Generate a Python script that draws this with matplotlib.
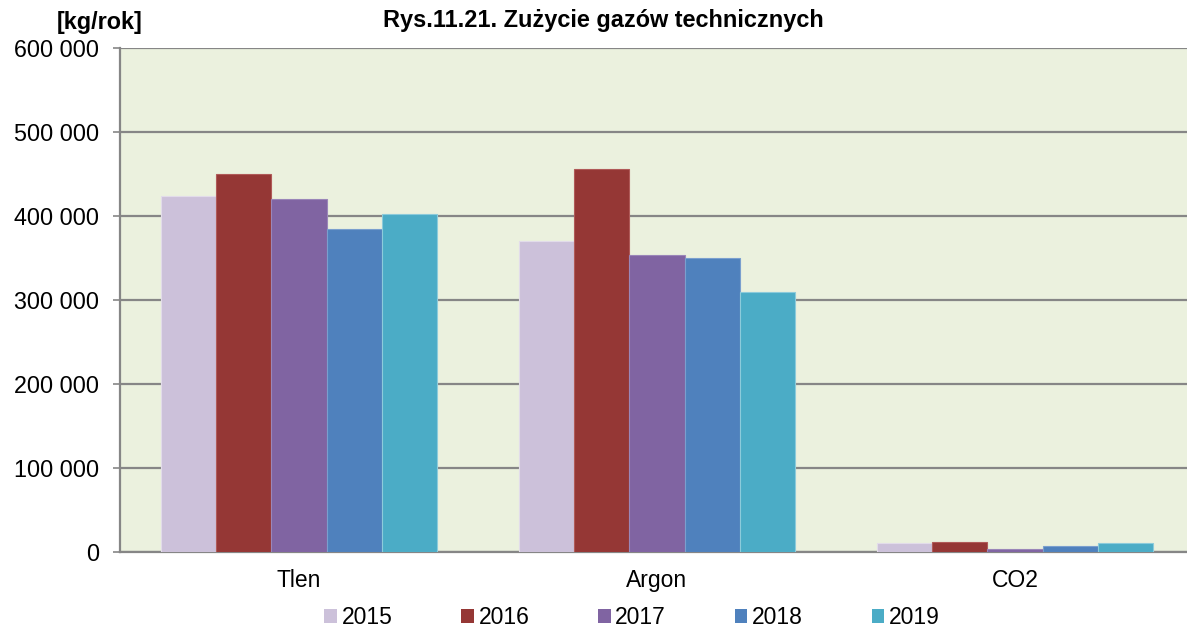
import matplotlib
matplotlib.use('Agg')
import matplotlib.pyplot as plt
import matplotlib.ticker as mticker
from matplotlib.patches import Patch
import numpy as np

plt.rcParams['font.family'] = ['Liberation Sans', 'DejaVu Sans']

# data
categories = ['Tlen', 'Argon', 'CO2']
years = ['2015', '2016', '2017', '2018', '2019']
v2015 = [424000, 370000, 10500]
v2016 = [450000, 456000, 12000]
v2017 = [420000, 354000, 3500]
v2018 = [385000, 350000, 7000]
v2019 = [402000, 310000, 11000]
series = [v2015, v2016, v2017, v2018, v2019]
colors = ['#CCC1DA', '#953735', '#8064A2', '#4F81BD', '#4BACC6']
edges = ['#E2DCEA', '#B05A58', '#9A86B8', '#7A9FCE', '#8CCBDB']

W, H = 1187, 631
fig = plt.figure(figsize=(W / 100, H / 100), dpi=100)
ax = fig.add_axes([120 / W, (H - 552) / H, (1194 - 120) / W, 504 / H])
ax.set_facecolor('#EBF1DE')

x = np.arange(len(categories))
bw = 1 / 6.5
for i, vals in enumerate(series):
    ax.bar(x + (i - 2) * bw, vals, width=bw, color=colors[i],
           edgecolor=edges[i], linewidth=0.8, zorder=3)

ax.set_xlim(-0.5, 2.5)
ax.set_ylim(0, 600000)
ax.yaxis.set_major_locator(mticker.MultipleLocator(100000))
ax.yaxis.set_major_formatter(mticker.FuncFormatter(
    lambda v, p: f'{int(v):,}'.replace(',', ' ')))
ax.grid(axis='y', color='#868686', linewidth=1.6, zorder=1)
ax.set_xticks(x)
ax.set_xticklabels(categories)
ax.tick_params(axis='x', length=0, pad=12, labelsize=16.5)
ax.tick_params(axis='y', length=5, width=1.2, color='#868686', pad=10, labelsize=16.8)
for s in ['top', 'right']:
    ax.spines[s].set_visible(False)
for s in ['left', 'bottom']:
    ax.spines[s].set_color('#868686')
    ax.spines[s].set_linewidth(1.6)

fig.text(603 / W, 1 - 20 / H, 'Rys.11.21. Zużycie gazów technicznych',
         ha='center', va='center', fontsize=16.9, fontweight='bold')
fig.text(100 / W, 1 - 23 / H, '[kg/rok]', ha='center', va='center',
         fontsize=16.8, fontweight='bold')

handles = [Patch(facecolor=c, edgecolor='none') for c in colors]
fig.legend(handles, years, loc='center', bbox_to_anchor=(632 / W, 1 - 618 / H),
           ncol=5, frameon=False, fontsize=16.5, handlelength=0.55, handleheight=0.55,
           handletextpad=0.2, columnspacing=3.0, borderpad=0.1)

fig.savefig('out.png', dpi=100)
